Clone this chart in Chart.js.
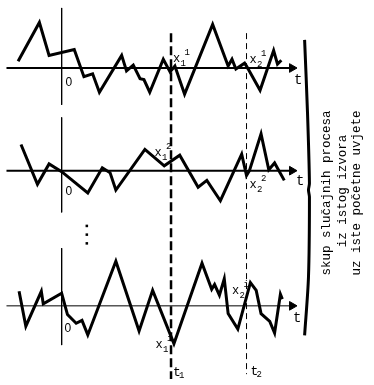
<!DOCTYPE html>
<html>
<head>
<meta charset="utf-8">
<script src="https://cdn.jsdelivr.net/npm/chart.js@4"></script>
<style>
  html, body { margin: 0; padding: 0; background: #fff; }
  canvas { display: block; }
</style>
</head>
<body>
<canvas id="c" width="374" height="385"></canvas>
<script>
// vrijeme (t) i vrijednosti procesa, ocitano sa slike
var proc1T = [-45, -23, -13, 13, 23, 32, 39, 62, 67, 74, 81, 85, 91, 105, 112, 117, 127, 156, 172, 176, 180, 189, 191, 205, 219, 223, 227];
var proc1V = [7, 47, 13, 19, -9, -6, -25, 13, -3, 3, -11, -12, -25, 9, -4, 2, -27, 45, 2, 9, -1, 5, 2, -23, 18, 4, 8];

var proc2T = [-42, -25, -13, 0, 27, 42, 50, 56, 86, 106, 122, 141, 150, 164, 186, 191, 194, 206, 214, 220, 230];
var proc2V = [27, -14, 7, -1, -23, 3, -2, -20, 22, 5, 16, -17, -10, -31, 17, -5, 0, 38, 1, 8, -10];

var proc3T = [-44, -37, -21, -19, 0, 6, 15, 21, 27, 56, 80, 94, 116, 145, 155, 158, 163, 168, 172, 182, 195, 201, 206, 215, 220, 226, 228];
var proc3V = [15, -21, 15, 2, 13, -9, -18, -15, -30, 46, -26, 16, -39, 44, 17, 22, 11, 28, -8, -24, 24, 16, -8, -16, -28, 12, 7];

var timeMarks = [113, 191];          // t1, t2
var timeLabels = ['1', '2'];
var textLines = ['skup slučajnih procesa', 'iz istog izvora', 'uz iste početne uvjete'];

// polozaj nul-osi svakog procesa na platnu (px od vrha)
var base = [64, 170, 309.5];
var H = 385;
function off(k) { return H - base[k]; }

function pts(T, V, k) {
  return T.map(function(t, i) { return { x: t, y: V[i] + off(k) }; });
}

var datasets = [];
function line(data, w, dash) {
  datasets.push({
    data: data, showLine: true, borderColor: '#000', borderWidth: w,
    borderDash: dash || [], pointRadius: 0, tension: 0, fill: false
  });
}

// osi
[2, 2, 1].forEach(function(w, k) {
  line([{ x: -57, y: off(k) }, { x: 238, y: off(k) }], w);
});
line([{ x: 0, y: H - 2 }, { x: 0, y: H - 102 }], 1);
line([{ x: 0, y: H - 115 }, { x: 0, y: H - 213 }], 1);
line([{ x: 0, y: H - 250 }, { x: 0, y: H - 350 }], 1);

// procesi
line(pts(proc1T, proc1V, 0), 3);
line(pts(proc2T, proc2V, 1), 3);
line(pts(proc3T, proc3V, 2), 3);

// t1, t2
line([{ x: timeMarks[0], y: H - 28 }, { x: timeMarks[0], y: 0 }], 2.5, [9, 4]);
line([{ x: timeMarks[1], y: H - 28 }, { x: timeMarks[1], y: 5 }], 1, [6, 4]);

// zagrada
datasets.push({
  data: [{ x: 251, y: H - 35 }, { x: 254, y: H - 110 }, { x: 256, y: H - 183 }, { x: 255, y: H - 190 },
         { x: 256, y: H - 197 }, { x: 255, y: H - 280 }, { x: 251, y: H - 340 }],
  showLine: true, borderColor: '#000', borderWidth: 3, pointRadius: 0, tension: 0.3, fill: false
});

// strelice
datasets.push({
  data: base.map(function(b, k) { return { x: 238, y: off(k) }; }),
  showLine: false, pointStyle: 'triangle', rotation: 90, pointRadius: 5,
  backgroundColor: '#000', borderColor: '#000', borderWidth: 1
});

// tockice
datasets.push({
  data: [{ x: 26, y: H - 227 }, { x: 26, y: H - 236 }, { x: 26, y: H - 245 }],
  showLine: false, pointStyle: 'rect', pointRadius: 1.8,
  backgroundColor: '#000', borderColor: '#000', borderWidth: 0
});

var labels = {
  id: 'labels',
  afterDatasetsDraw: function(chart) {
    var c = chart.ctx, sx = chart.scales.x, sy = chart.scales.y;
    function px(t) { return sx.getPixelForValue(t); }
    function py(p) { return sy.getPixelForValue(H - p); }
    c.save();
    c.fillStyle = '#000';
    c.textBaseline = 'alphabetic';
    c.textAlign = 'left';

    function xs(left, bl, sub, sup) {
      var x = px(left - 57), y = py(bl);
      c.font = '12px "Liberation Mono"';
      c.fillText('x', x, y);
      c.font = '9px "Liberation Mono"';
      c.fillText(sub, x + 7.5, y + 4);
      c.fillText(sup, x + 11.5, y - 7);
    }
    xs(172, 58, '1', '1');
    xs(251, 59, '2', '1');
    xs(153, 155, '1', '2');
    xs(251, 188, '2', '2');
    xs(154, 353, '1', 'i');
    xs(233, 297, '2', 'i');

    // t1, t2 ispod
    [[172, 382], [252, 381]].forEach(function(p, i) {
      c.font = '13px "Liberation Mono"';
      c.fillText('t', px(p[0] - 57), py(p[1]));
      c.font = '9px "Liberation Mono"';
      c.fillText(timeLabels[i], px(p[0] - 57) + 6, py(p[1]) + 2);
    });

    // t na osima
    c.font = '14px "Liberation Mono"';
    [[297, 80], [299, 185], [296, 326]].forEach(function(p) {
      c.fillText('t', px(p[0] - 57), py(p[1]));
    });

    // nule
    c.font = '12px "Liberation Sans"';
    [[61, 83], [61, 195], [60, 337]].forEach(function(p) {
      c.fillText('0', px(p[0] - 57), py(p[1]));
    });

    // okomiti tekst
    c.font = '12.5px "Liberation Mono"';
    c.textAlign = 'center';
    c.textBaseline = 'middle';
    [[331, 193], [347, 191], [362, 193]].forEach(function(p, i) {
      c.save();
      c.translate(px(p[0] - 57), py(p[1]));
      c.rotate(-Math.PI / 2);
      c.fillText(textLines[i], 0, 0);
      c.restore();
    });
    c.restore();
  }
};

new Chart(document.getElementById('c').getContext('2d'), {
  type: 'scatter',
  data: { datasets: datasets },
  options: {
    responsive: false,
    animation: false,
    layout: { padding: 0 },
    scales: {
      x: { type: 'linear', min: -57.5, max: 316.5, display: false },
      y: { type: 'linear', min: 0, max: H, display: false }
    },
    plugins: { legend: { display: false }, tooltip: { enabled: false } },
    elements: { line: { borderCapStyle: 'butt', borderJoinStyle: 'miter' } }
  },
  plugins: [labels]
});
</script>
</body>
</html>
